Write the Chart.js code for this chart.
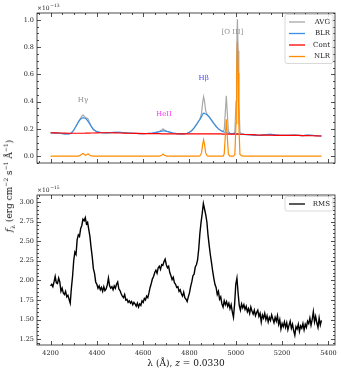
<!DOCTYPE html>
<html>
<head>
<meta charset="utf-8">
<script src="https://cdn.jsdelivr.net/npm/chart.js@4.4.0/dist/chart.umd.min.js"></script>
<style>
  body { margin: 0; background: #fff; }
  #wrap { position: relative; width: 341px; height: 373px; font-family: "DejaVu Serif", serif; color: #111; }
  canvas { position: absolute; left: 0; }
  #top { top: 0; }
  #bottom { top: 175px; }
  #ylab { position: absolute; left: 9px; top: 186px; transform: translate(-50%, -50%) rotate(-90deg); white-space: nowrap; font-size: 9px; }
  #xlab { position: absolute; left: 186px; top: 363px; transform: translate(-50%, -50%); white-space: nowrap; font-size: 9px; }
  sup, sub { font-size: 6px; line-height: 0; }
</style>
</head>
<body>
<div id="wrap">
  <canvas id="top" width="341" height="175"></canvas>
  <canvas id="bottom" width="341" height="198"></canvas>
  <div id="ylab"><i>f</i><sub>λ</sub> (erg cm<sup>−2</sup> s<sup>−1</sup> Å<sup>−1</sup>)</div>
  <div id="xlab">λ (Å), <i>z</i> = 0.0330</div>
</div>
<script>
// top panel: decomposition (units of 1e-13)
var topWave = [
  4200, 4220, 4240, 4260, 4280, 4290, 4300, 4310, 4320, 4326,
  4332, 4337, 4341, 4346, 4351, 4356, 4362, 4367, 4375, 4385,
  4400, 4420, 4440, 4460, 4480, 4500, 4520, 4540, 4560, 4580,
  4600, 4620, 4640, 4655, 4670, 4680, 4686, 4692, 4702, 4715,
  4730, 4745, 4760, 4775, 4790, 4800, 4810, 4820, 4830, 4840,
  4845, 4852, 4857, 4861, 4865, 4870, 4877, 4885, 4895, 4905,
  4915, 4925, 4935, 4945, 4950, 4955, 4959, 4963, 4968, 4974,
  4982, 4990, 4996, 5001, 5004, 5007, 5010, 5013, 5018, 5026,
  5035, 5050, 5070, 5090, 5110, 5130, 5150, 5170, 5190, 5210,
  5230, 5250, 5270, 5290, 5310, 5330, 5350, 5370
];
var avgFlux = [
  0.170, 0.171, 0.168, 0.164, 0.163, 0.170, 0.190, 0.220, 0.251, 0.268,
  0.285, 0.298, 0.302, 0.292, 0.284, 0.279, 0.273, 0.252, 0.222, 0.196,
  0.180, 0.172, 0.170, 0.173, 0.175, 0.174, 0.172, 0.170, 0.168, 0.166,
  0.166, 0.167, 0.170, 0.174, 0.181, 0.191, 0.201, 0.192, 0.183, 0.176,
  0.170, 0.166, 0.164, 0.164, 0.168, 0.175, 0.188, 0.208, 0.232, 0.258,
  0.271, 0.314, 0.395, 0.436, 0.401, 0.334, 0.303, 0.288, 0.265, 0.240,
  0.218, 0.200, 0.188, 0.181, 0.193, 0.330, 0.443, 0.326, 0.185, 0.168,
  0.166, 0.166, 0.178, 0.404, 0.774, 1.004, 0.774, 0.403, 0.175, 0.163,
  0.160, 0.158, 0.156, 0.153, 0.155, 0.158, 0.160, 0.156, 0.153, 0.152,
  0.153, 0.155, 0.153, 0.151, 0.154, 0.153, 0.150, 0.148
];
var blrFlux = [
  0.170, 0.171, 0.168, 0.164, 0.163, 0.170, 0.190, 0.220, 0.250, 0.264,
  0.275, 0.280, 0.282, 0.280, 0.277, 0.268, 0.255, 0.242, 0.220, 0.196,
  0.180, 0.172, 0.170, 0.173, 0.175, 0.174, 0.172, 0.170, 0.168, 0.166,
  0.166, 0.167, 0.170, 0.174, 0.180, 0.184, 0.186, 0.185, 0.182, 0.176,
  0.170, 0.166, 0.164, 0.164, 0.168, 0.175, 0.188, 0.208, 0.232, 0.258,
  0.270, 0.290, 0.308, 0.316, 0.314, 0.310, 0.302, 0.288, 0.265, 0.240,
  0.218, 0.200, 0.188, 0.180, 0.177, 0.175, 0.173, 0.171, 0.169, 0.168,
  0.166, 0.165, 0.165, 0.164, 0.164, 0.164, 0.164, 0.163, 0.162, 0.161,
  0.160, 0.158, 0.156, 0.153, 0.155, 0.158, 0.160, 0.156, 0.153, 0.152,
  0.153, 0.155, 0.153, 0.151, 0.154, 0.153, 0.150, 0.148
];
var contFlux = [
  0.172, 0.171, 0.170, 0.169, 0.168, 0.168, 0.168, 0.168, 0.168, 0.168,
  0.168, 0.168, 0.168, 0.168, 0.169, 0.169, 0.169, 0.169, 0.170, 0.170,
  0.171, 0.172, 0.172, 0.172, 0.171, 0.170, 0.169, 0.168, 0.167, 0.167,
  0.166, 0.166, 0.165, 0.165, 0.165, 0.164, 0.164, 0.164, 0.164, 0.164,
  0.163, 0.163, 0.163, 0.163, 0.163, 0.163, 0.163, 0.163, 0.163, 0.163,
  0.163, 0.163, 0.163, 0.163, 0.163, 0.163, 0.163, 0.163, 0.163, 0.163,
  0.163, 0.163, 0.163, 0.162, 0.162, 0.162, 0.162, 0.162, 0.162, 0.162,
  0.162, 0.162, 0.162, 0.162, 0.162, 0.162, 0.162, 0.162, 0.161, 0.161,
  0.160, 0.159, 0.158, 0.156, 0.155, 0.154, 0.154, 0.153, 0.153, 0.153,
  0.153, 0.152, 0.152, 0.151, 0.151, 0.150, 0.149, 0.148
];
var nlrFlux = [
  0, 0, 0, 0, 0, 0, 0, 0, 0.001, 0.004,
  0.010, 0.018, 0.020, 0.012, 0.007, 0.011, 0.018, 0.010, 0.002, 0,
  0, 0, 0, 0, 0, 0, 0, 0, 0, 0,
  0, 0, 0, 0, 0.001, 0.007, 0.015, 0.007, 0.001, 0,
  0, 0, 0, 0, 0, 0, 0, 0, 0, 0,
  0.001, 0.024, 0.087, 0.120, 0.087, 0.024, 0.001, 0, 0, 0,
  0, 0, 0, 0.001, 0.016, 0.155, 0.270, 0.155, 0.016, 0,
  0, 0.001, 0.013, 0.240, 0.610, 0.840, 0.610, 0.240, 0.013, 0.002,
  0, 0, 0, 0, 0, 0, 0, 0, 0, 0,
  0, 0, 0, 0, 0, 0, 0, 0
];
var topNames = ["AVG", "BLR", "Cont", "NLR"];
var topColors = ["#a8a8a8", "#3a8ee6", "#ff0000", "#ff8c00"];

// line labels
var lineNames = ["Hγ", "HeII", "Hβ", "[O III]"];
var lineWave = [4340, 4690, 4861, 4985];
var lineLevel = [0.41, 0.31, 0.57, 0.91];
var lineColors = ["#8c8c8c", "#ff33ff", "#4646f5", "#8c8c8c"];

// bottom panel: rms spectrum (units of 1e-15)
var rmsWave = [
  4200, 4205, 4210, 4215, 4220, 4225, 4230, 4235, 4240, 4245,
  4250, 4255, 4260, 4265, 4270, 4275, 4280, 4285, 4290, 4295,
  4300, 4305, 4310, 4315, 4320, 4325, 4330, 4335, 4340, 4345,
  4350, 4355, 4360, 4365, 4370, 4375, 4380, 4385, 4390, 4395,
  4400, 4405, 4410, 4415, 4420, 4425, 4430, 4435, 4440, 4445,
  4450, 4455, 4460, 4465, 4470, 4475, 4480, 4485, 4490, 4495,
  4500, 4505, 4510, 4515, 4520, 4525, 4530, 4535, 4540, 4545,
  4550, 4555, 4560, 4565, 4570, 4575, 4580, 4585, 4590, 4595,
  4600, 4605, 4610, 4615, 4620, 4625, 4630, 4635, 4640, 4645,
  4650, 4655, 4660, 4665, 4670, 4675, 4680, 4685, 4690, 4695,
  4700, 4705, 4710, 4715, 4720, 4725, 4730, 4735, 4740, 4745,
  4750, 4755, 4760, 4765, 4770, 4775, 4780, 4785, 4790, 4795,
  4800, 4805, 4810, 4815, 4820, 4825, 4830, 4835, 4840, 4845,
  4850, 4855, 4860, 4865, 4870, 4875, 4880, 4885, 4890, 4895,
  4900, 4905, 4910, 4915, 4920, 4925, 4930, 4935, 4940, 4945,
  4950, 4955, 4960, 4965, 4970, 4975, 4980, 4985, 4990, 4995,
  5000, 5005, 5010, 5015, 5020, 5025, 5030, 5035, 5040, 5045,
  5050, 5055, 5060, 5065, 5070, 5075, 5080, 5085, 5090, 5095,
  5100, 5105, 5110, 5115, 5120, 5125, 5130, 5135, 5140, 5145,
  5150, 5155, 5160, 5165, 5170, 5175, 5180, 5185, 5190, 5195,
  5200, 5205, 5210, 5215, 5220, 5225, 5230, 5235, 5240, 5245,
  5250, 5255, 5260, 5265, 5270, 5275, 5280, 5285, 5290, 5295,
  5300, 5305, 5310, 5315, 5320, 5325, 5330, 5335, 5340, 5345,
  5350, 5355, 5360, 5365, 5370
];
var rmsFlux = [
  1.93, 1.95, 1.92, 1.98, 2.05, 1.97, 1.96, 2.03, 1.98, 1.86,
  1.90, 1.84, 1.82, 1.86, 1.79, 1.81, 1.76, 1.71, 1.90, 2.05,
  2.25, 2.36, 2.33, 2.52, 2.58, 2.56, 2.66, 2.70, 2.78, 2.76,
  2.80, 2.72, 2.74, 2.65, 2.56, 2.42, 2.30, 2.15, 2.09, 1.98,
  1.95, 1.90, 1.93, 1.88, 1.91, 1.86, 1.92, 1.87, 1.89, 1.94,
  2.03, 1.93, 1.90, 1.92, 1.88, 1.93, 1.90, 1.95, 1.98, 1.89,
  1.87, 1.83, 1.80, 1.78, 1.82, 1.75, 1.76, 1.72, 1.74, 1.71,
  1.73, 1.69, 1.72, 1.70, 1.67, 1.71, 1.66, 1.70, 1.68, 1.74,
  1.72, 1.77, 1.75, 1.80, 1.78, 1.84, 1.91, 1.96, 2.02, 2.05,
  2.10, 2.13, 2.09, 2.16, 2.18, 2.14, 2.20, 2.19, 2.24, 2.27,
  2.20, 2.16, 2.18, 2.10, 2.06, 2.01, 2.04, 1.97, 1.95, 1.91,
  1.92, 1.86, 1.88, 1.83, 1.80, 1.85, 1.78, 1.76, 1.73, 1.79,
  1.84, 1.92, 1.98, 2.06, 2.08, 2.17, 2.20, 2.26, 2.40, 2.60,
  2.74, 2.85, 2.98, 2.91, 2.84, 2.75, 2.58, 2.45, 2.33, 2.23,
  2.12, 2.03, 1.95, 1.91, 1.82, 1.86, 1.76, 1.79, 1.70, 1.66,
  1.74, 1.69, 1.73, 1.67, 1.71, 1.64, 1.69, 1.60, 1.53, 1.70,
  1.95, 2.03, 1.84, 1.68, 1.62, 1.70, 1.65, 1.69, 1.63, 1.67,
  1.60, 1.64, 1.58, 1.66, 1.61, 1.57, 1.62, 1.55, 1.59, 1.62,
  1.54, 1.58, 1.47, 1.56, 1.52, 1.58, 1.50, 1.55, 1.47, 1.53,
  1.49, 1.56, 1.51, 1.46, 1.53, 1.48, 1.55, 1.44, 1.50, 1.38,
  1.45, 1.41, 1.47, 1.40, 1.46, 1.37, 1.43, 1.48, 1.39, 1.44,
  1.36, 1.30, 1.41, 1.38, 1.44, 1.35, 1.42, 1.39, 1.45, 1.37,
  1.44, 1.40, 1.48, 1.45, 1.52, 1.43, 1.50, 1.60, 1.47, 1.54,
  1.46, 1.40, 1.52, 1.43, 1.49
];

var xMin = 4141.5, xMax = 5428.5;
var serif = '"DejaVu Serif", serif';

function pts(w, f) {
  return w.map(function (v, i) { return {x: v, y: f[i]}; });
}

// inward ticks on all sides + frame
const frameTicks = {
  id: 'frameTicks',
  afterDatasetsDraw(chart, args, opts) {
    const ctx = chart.ctx, a = chart.chartArea;
    const xs = chart.scales.x, ys = chart.scales.y;
    ctx.save();
    ctx.strokeStyle = '#222';
    ctx.lineWidth = 0.8;
    function seg(x1, y1, x2, y2) {
      ctx.beginPath(); ctx.moveTo(x1, y1); ctx.lineTo(x2, y2); ctx.stroke();
    }
    let v;
    for (v = Math.ceil(xs.min / opts.xMinor) * opts.xMinor; v <= xs.max; v += opts.xMinor) {
      const p = Math.round(xs.getPixelForValue(v)) + 0.5;
      const major = Math.abs(v / opts.xMajor - Math.round(v / opts.xMajor)) < 1e-6;
      const len = major ? 4 : 2;
      seg(p, a.bottom, p, a.bottom - len);
      seg(p, a.top, p, a.top + len);
    }
    for (v = Math.ceil(ys.min / opts.yMinor - 1e-6) * opts.yMinor; v <= ys.max + 1e-9; v += opts.yMinor) {
      const p = Math.round(ys.getPixelForValue(v)) + 0.5;
      const major = Math.abs(v / opts.yMajor - Math.round(v / opts.yMajor)) < 1e-6;
      const len = major ? 4 : 2;
      seg(a.left, p, a.left + len, p);
      seg(a.right, p, a.right - len, p);
    }
    ctx.strokeRect(a.left, a.top, a.right - a.left, a.bottom - a.top);

    // offset text
    ctx.fillStyle = '#222';
    ctx.textBaseline = 'alphabetic';
    ctx.textAlign = 'left';
    ctx.font = '6px ' + serif;
    ctx.fillText('×10', a.left, a.top - 3);
    const w = ctx.measureText('×10').width;
    ctx.font = '4.5px ' + serif;
    ctx.fillText(opts.exp, a.left + w + 0.5, a.top - 6);

    // legend
    const items = chart.data.datasets;
    const rowH = 11.5;
    const bw = 48, bh = items.length * rowH + 3;
    const bx = a.right - bw - 2, by = a.top + 1.5;
    ctx.fillStyle = 'rgba(255,255,255,0.85)';
    ctx.strokeStyle = '#cfcfcf';
    ctx.lineWidth = 0.8;
    ctx.beginPath();
    ctx.roundRect(bx, by, bw, bh, 2);
    ctx.fill(); ctx.stroke();
    ctx.font = '7px ' + serif;
    ctx.textBaseline = 'middle';
    ctx.textAlign = 'right';
    items.forEach(function (d, i) {
      const y = by + 7.5 + i * rowH;
      ctx.strokeStyle = d.borderColor;
      ctx.lineWidth = 1.3;
      seg(bx + 4, y, bx + 20, y);
      ctx.fillStyle = '#222';
      ctx.fillText(d.label, bx + bw - 3, y);
    });
    ctx.restore();
  }
};

// emission line names
const lineText = {
  id: 'lineText',
  afterDatasetsDraw(chart, args, opts) {
    if (!opts.show) return;
    const ctx = chart.ctx;
    ctx.save();
    ctx.font = '7px ' + serif;
    ctx.textAlign = 'center';
    ctx.textBaseline = 'middle';
    lineNames.forEach(function (n, i) {
      ctx.fillStyle = lineColors[i];
      ctx.fillText(n, chart.scales.x.getPixelForValue(lineWave[i]), chart.scales.y.getPixelForValue(lineLevel[i]));
    });
    ctx.restore();
  }
};

function baseOptions(cfg) {
  return {
    responsive: false,
    animation: false,
    layout: {padding: {top: cfg.padTop, right: 6, left: 0, bottom: 0}},
    plugins: {
      legend: {display: false},
      tooltip: {enabled: false},
      frameTicks: cfg.ticks,
      lineText: {show: cfg.lines}
    },
    elements: {point: {radius: 0}, line: {tension: 0, borderWidth: cfg.lw}},
    scales: {
      x: {
        type: 'linear', min: xMin, max: xMax,
        grid: {display: false, drawTicks: false},
        border: {display: false},
        ticks: {
          display: cfg.xLabels, stepSize: 200, includeBounds: false, autoSkip: false,
          maxRotation: 0, padding: 4, color: '#222',
          font: {family: serif, size: 6.5},
          callback: function (v) { return String(v); }
        },
        afterFit: function (s) { s.height = cfg.xHeight; }
      },
      y: {
        min: cfg.yMin, max: cfg.yMax,
        grid: {display: false, drawTicks: false},
        border: {display: false},
        ticks: {
          stepSize: cfg.yStep, includeBounds: false, autoSkip: false, padding: 3, color: '#222',
          font: {family: serif, size: 6.5},
          callback: function (v) { return v.toFixed(cfg.dec); }
        },
        afterFit: function (s) { s.width = 37; }
      }
    }
  };
}

new Chart("top", {
  type: "scatter",
  data: {
    datasets: topNames.map(function (n, i) {
      var f = [avgFlux, blrFlux, contFlux, nlrFlux][i];
      return {
        label: n, data: pts(topWave, f), showLine: true,
        borderColor: topColors[i], backgroundColor: topColors[i],
        order: 4 - i
      };
    })
  },
  options: baseOptions({
    padTop: 13, xHeight: 12, xLabels: false, lines: true, lw: 1.2,
    yMin: -0.05, yMax: 1.05, yStep: 0.2, dec: 1,
    ticks: {xMajor: 200, xMinor: 50, yMajor: 0.2, yMinor: 0.05, exp: '−13'}
  }),
  plugins: [frameTicks, lineText]
});

new Chart("bottom", {
  type: "scatter",
  data: {
    datasets: [{
      label: "RMS", data: pts(rmsWave, rmsFlux), showLine: true,
      borderColor: "#000000", backgroundColor: "#000000"
    }]
  },
  options: baseOptions({
    padTop: 20, xHeight: 28, xLabels: true, lines: false, lw: 1.4,
    yMin: 1.1765, yMax: 3.0885, yStep: 0.25, dec: 2,
    ticks: {xMajor: 200, xMinor: 50, yMajor: 0.25, yMinor: 0.05, exp: '−15'}
  }),
  plugins: [frameTicks, lineText]
});
</script>
</body>
</html>
